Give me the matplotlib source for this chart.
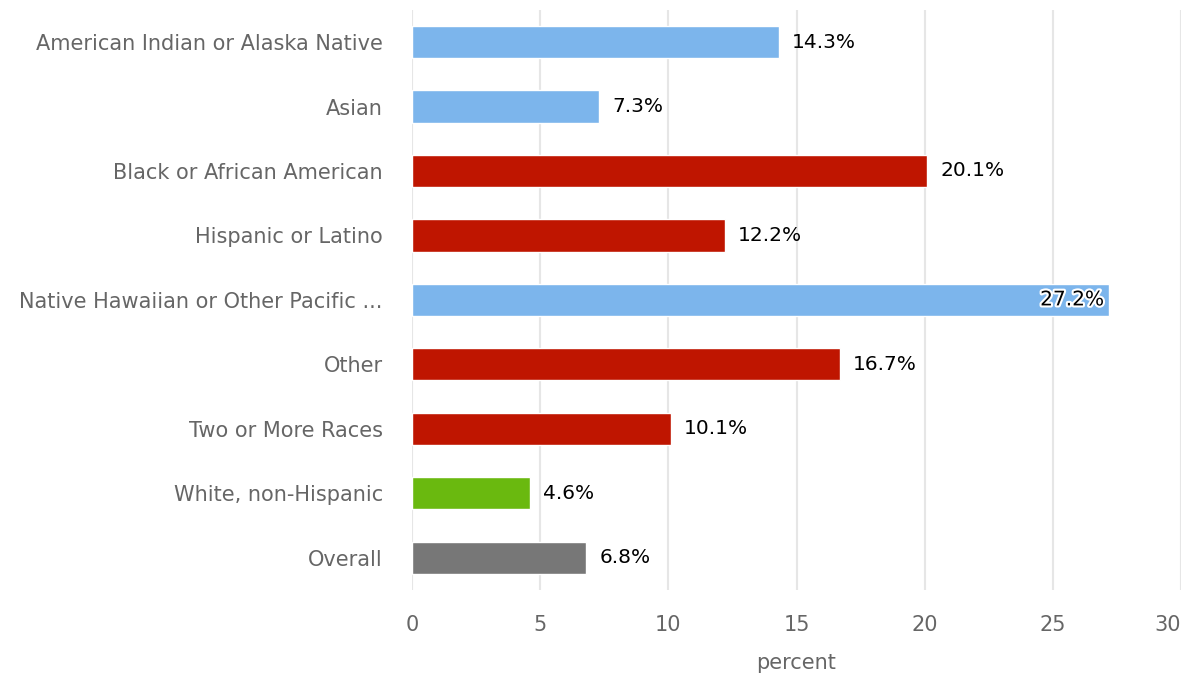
import matplotlib.pyplot as plt
import matplotlib.patheffects as pe

categories = ['American Indian or Alaska Native', 'Asian', 'Black or African American',
              'Hispanic or Latino', 'Native Hawaiian or Other Pacific ...', 'Other',
              'Two or More Races', 'White, non-Hispanic', 'Overall']
values = [14.3, 7.3, 20.1, 12.2, 27.2, 16.7, 10.1, 4.6, 6.8]
colors = ['#7cb5ec', '#7cb5ec', '#bf1500', '#bf1500', '#7cb5ec', '#bf1500',
          '#bf1500', '#6ab90f', '#777777']
xticks = [0, 5, 10, 15, 20, 25, 30]

plt.rcParams['font.family'] = ['DejaVu Sans']
fig = plt.figure(figsize=(11.86, 6.77), dpi=100)
ax = fig.add_axes([0.3474, 0.1285, 0.6484, 0.857])

ypos = range(len(categories))
ax.barh(ypos, values, height=0.5, color=colors, edgecolor='white', linewidth=1, zorder=3)

for y, v in zip(ypos, values):
    if v > 25:
        ax.text(v - 0.2, y, f'{v}%', ha='right', va='center', fontsize=14.5, color='black',
                zorder=4, path_effects=[pe.withStroke(linewidth=3, foreground='white')])
    else:
        ax.text(v + 0.5, y, f'{v}%', ha='left', va='center', fontsize=14.5, color='black', zorder=4)

ax.set_xlim(0, 30)
ax.set_ylim(len(categories) - 0.5, -0.5)
ax.set_xticks(xticks)
ax.set_yticks(list(ypos))
ax.set_yticklabels(categories)
ax.tick_params(axis='y', length=0, pad=21, labelsize=15, labelcolor='#666666')
ax.tick_params(axis='x', length=0, pad=18, labelsize=15, labelcolor='#666666')
# keep the last tick label inside the figure, like the original
ax.get_xticklabels()[-1].set_horizontalalignment('right')
ax.grid(axis='x', color='#e6e6e6', linewidth=1.5, zorder=0)
for s in ax.spines.values():
    s.set_visible(False)
ax.set_xlabel('percent', fontsize=15, color='#666666', labelpad=13)

plt.savefig('out.png')
